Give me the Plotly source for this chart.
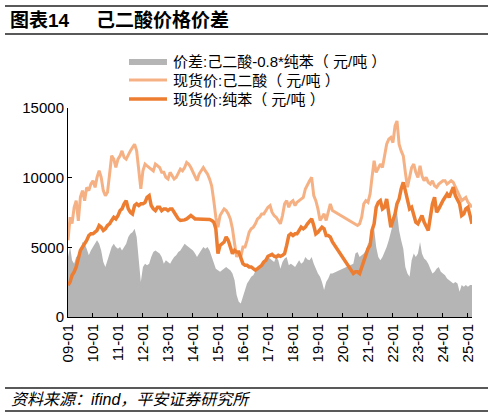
import pandas as pd
import plotly.graph_objects as go

# monthly, 2009-01 .. 2025-03; None = no quote (2019H2-2020H1 gap)
months = pd.date_range("2009-01-01", periods=195, freq="MS")

adipic = [
    5500, 7160, 6700, 7880, 8350, 6900, 8600, 9070, 8350, 9300, 9070, 9540,
    9780, 9300, 10020, 10500, 10020, 9070, 8700, 8950, 10260, 11570, 11330, 10730,
    11330, 11570, 11920, 11450, 11330, 11690, 11920, 12160, 12400, 11920, 10500, 9190,
    10500, 10970, 10850, 10730, 10610, 10490, 10970, 10850, 10730, 10380, 10380, 10020,
    9900, 10380, 10140, 9900, 10020, 10380, 10610, 10490, 10730, 11090, 10970, 10730,
    10380, 10140, 9780, 10260, 10490, 10730, 10490, 10260, 9900, 9420, 8350, 7160,
    6450, 7280, 7520, 7760, 7640, 7400, 7040, 6330, 5260, 4310, 4660, 4310,
    5020, 5020, 5500, 6090, 6330, 6450, 6690, 7040, 7160, 7400, 7400, 7640,
    7880, 8000, 7520, 7280, 7160, 6930, 6690, 7280, 8120, 8350, 7880, 8230,
    8350, 8000, 8230, 8350, 8470, 8590, 9190, 9540, 9780, 10020, 8710, 8350,
    7760, 6930, 7160, 7400, 6930, 7640, 8120, 7640, None, None, None, None,
    None, None, None, None, None, None, None, 6570, 6690, 7160, 8120, 8350,
    8230, 8830, 10020, 11210, 10380, 10730, 10970, 10730, 11450, 12400, 12760, 12880,
    12520, 13710, 14070, 12400, 11920, 11570, 10380, 9310, 10020, 10730, 10970, 10380,
    10020, 10850, 10140, 9780, 10020, 9660, 9540, 9780, 9420, 9310, 9540, 9660,
    9780, 9780, 9540, 9660, 9780, 9660, 9310, 9070, 8710, 8350, 8470, 8590,
    8230, 8000, 7880,
]

benzene = [
    2280, 2520, 3000, 3240, 3590, 4310, 4780, 5020, 5260, 5500, 5850, 5970,
    5970, 6090, 6210, 6570, 6450, 6210, 6330, 6570, 6690, 6930, 7160, 7040,
    7280, 7640, 7760, 8120, 8350, 7760, 7520, 7400, 8000, 8120, 8000, 8120,
    8120, 8230, 8590, 8710, 8000, 7760, 7640, 7880, 7880, 7640, 7760, 7760,
    7640, 7760, 7760, 7520, 7280, 7040, 6930, 6930, 6970, 7040, 7160, 7280,
    7160, 7040, 7040, 7040, 7040, 7040, 7040, 7020, 7000, 6930, 6810, 6330,
    4550, 5140, 5260, 5380, 5740, 5500, 5020, 4550, 4780, 4660, 4660, 4190,
    3830, 3710, 3710, 3590, 3590, 3470, 3360, 3470, 3590, 3710, 3950, 4070,
    4360, 4430, 4500, 4360, 4310, 4430, 4360, 4430, 4550, 5140, 5850, 5970,
    5850, 5970, 5970, 6210, 6450, 6330, 6450, 6690, 6880, 7040, 6570, 5970,
    6090, 6330, 6450, 6330, 5850, 5850, 5740, 5380, None, None, None, None,
    None, None, None, None, None, 3120, 3240, 3240, 3120, 3590, 4070, 4430,
    4900, 5140, 6210, 6690, 7880, 8230, 8350, 7760, 7880, 8470, 7400, 6450,
    6930, 7400, 8120, 8470, 9190, 9660, 9070, 8350, 7760, 7880, 7400, 6810,
    6690, 7040, 7280, 6810, 6570, 6210, 7160, 8120, 8590, 7520, 7760, 8120,
    8350, 8590, 8830, 8590, 8950, 9310, 8710, 8470, 8120, 7280, 7400, 7760,
    7880, 7280, 6690,
]

spread = [
    4310, 5020, 4070, 3830, 4310, 4430, 4550, 5380, 5260, 4900, 4430, 4780,
    5020, 5260, 5500, 5260, 4780, 3950, 3590, 4070, 4660, 5020, 5260, 5020,
    4900, 5020, 4780, 5020, 5260, 5740, 5970, 6090, 6330, 5740, 4310, 2520,
    3590, 3830, 3710, 3830, 4310, 4660, 4780, 4660, 4550, 4310, 3830, 4070,
    3950, 3830, 4070, 4310, 4430, 4660, 4780, 5020, 5260, 5140, 5020, 4900,
    4780, 4550, 4310, 4550, 4780, 5020, 4900, 5020, 4780, 4310, 3830, 3470,
    3360, 3240, 3360, 3470, 3590, 3470, 3360, 3120, 2640, 1570, 1090, 970,
    1450, 2050, 2400, 2640, 2880, 3000, 3360, 3590, 3710, 3830, 3950, 4070,
    4310, 4190, 4070, 3950, 4310, 4070, 3470, 3950, 4190, 4310, 3710, 3830,
    3710, 3590, 3830, 4070, 3830, 3950, 4310, 4120, 4070, 4310, 3830, 3470,
    3120, 2880, 2520, 1930, 2520, 2760, 3120, 3120, None, None, None, None,
    None, None, None, None, None, 3830, 4550, 4660, 4310, 4430, 4550, 4780,
    5260, 5380, 5970, 6330, 5020, 4310, 4070, 4310, 4660, 5020, 5500, 6090,
    6690, 7280, 7520, 6210, 5500, 4900, 3590, 3120, 2880, 4070, 4550, 4310,
    4550, 5380, 4550, 4190, 4070, 3830, 3470, 3120, 3240, 3470, 3590, 3240,
    3120, 3000, 2760, 2640, 2520, 2400, 2520, 2400, 1810, 2290, 2170, 2290,
    2170, 2290, 2290,
]

tick_dates = [f"{y}-01-01" for y in range(2009, 2026)]
tick_labels = [f"{y % 100:02d}-01" for y in range(2009, 2026)]
y_ticks = [0, 5000, 10000, 15000]

names = [
    "价差:己二酸-0.8*纯苯（ 元/吨 ）",
    "现货价:己二酸（ 元/吨 ）",
    "现货价:纯苯（ 元/吨 ）",
]

GREY = "#B5B5B5"
LIGHT = "#F5B183"
DARK = "#ED7D31"
FONT = "Liberation Sans, Arial, Noto Sans CJK SC, sans-serif"

# plot area in pixels: x 68..472, y 108..317
L, R, T, B = 68, 472, 108, 317


def px(x):
    return (x - L) / (R - L)


def py(y):
    return (B - y) / (B - T)


fig = go.Figure()

fig.add_trace(go.Scatter(
    x=months, y=spread, mode="lines", fill="tozeroy", connectgaps=True,
    line=dict(width=0, color=GREY), fillcolor=GREY, name=names[0],
))
fig.add_trace(go.Scatter(
    x=months, y=adipic, mode="lines", connectgaps=True,
    line=dict(color=LIGHT, width=3), name=names[1],
))
fig.add_trace(go.Scatter(
    x=months, y=benzene, mode="lines", connectgaps=True,
    line=dict(color=DARK, width=3.5), name=names[2],
))

fig.update_xaxes(
    type="date", range=["2009-01-01", "2025-03-01"],
    tickvals=tick_dates, ticktext=tick_labels, tickangle=-90,
    ticks="inside", ticklen=4, tickcolor="black",
    showline=True, linecolor="black", linewidth=1, showgrid=False, zeroline=False,
    tickfont=dict(size=15, color="black", family=FONT),
)
fig.update_yaxes(
    range=[0, 15000], tickvals=y_ticks, ticktext=[str(v) for v in y_ticks],
    ticks="inside", ticklen=4, tickcolor="black",
    showline=True, linecolor="black", linewidth=1, showgrid=False, zeroline=False,
    tickfont=dict(size=15, color="black", family=FONT),
)

shapes = [
    dict(type="line", xref="paper", yref="paper", x0=px(5), x1=px(488),
         y0=py(y), y1=py(y), line=dict(color="#222", width=1.5))
    for y in [6, 34, 388, 411]
]

annotations = [
    dict(text="<b>图表14</b>", x=px(8), y=py(21), xref="paper", yref="paper",
         xanchor="left", yanchor="middle", showarrow=False,
         font=dict(size=19, color="black", family=FONT)),
    dict(text="<b>己二酸价格价差</b>", x=px(94), y=py(21), xref="paper", yref="paper",
         xanchor="left", yanchor="middle", showarrow=False,
         font=dict(size=19, color="black", family=FONT)),
    dict(text="<i>资料来源：ifind，平安证券研究所</i>", x=px(9), y=py(399),
         xref="paper", yref="paper", xanchor="left", yanchor="middle", showarrow=False,
         font=dict(size=16, color="black", family=FONT)),
]

# legend drawn by hand so the row spacing matches the original
legend_rows = [(62, GREY, 6), (80, LIGHT, 3), (99, DARK, 3.5)]
for (row_y, color, width), name in zip(legend_rows, names):
    shapes.append(dict(type="line", xref="paper", yref="paper",
                       x0=px(129), x1=px(167), y0=py(row_y), y1=py(row_y),
                       line=dict(color=color, width=width)))
    annotations.append(dict(text=name, x=px(171), y=py(row_y), xref="paper",
                            yref="paper", xanchor="left", yanchor="middle",
                            showarrow=False,
                            font=dict(size=15, color="black", family=FONT)))

fig.update_layout(
    width=494, height=418,
    margin=dict(l=L, r=494 - R, t=T, b=418 - B),
    paper_bgcolor="white", plot_bgcolor="white",
    font=dict(family=FONT, color="black"),
    showlegend=False,
    shapes=shapes,
    annotations=annotations,
)

fig.write_html("out.html", config={"displayModeBar": False},
               post_script="document.body.style.margin='0';")
